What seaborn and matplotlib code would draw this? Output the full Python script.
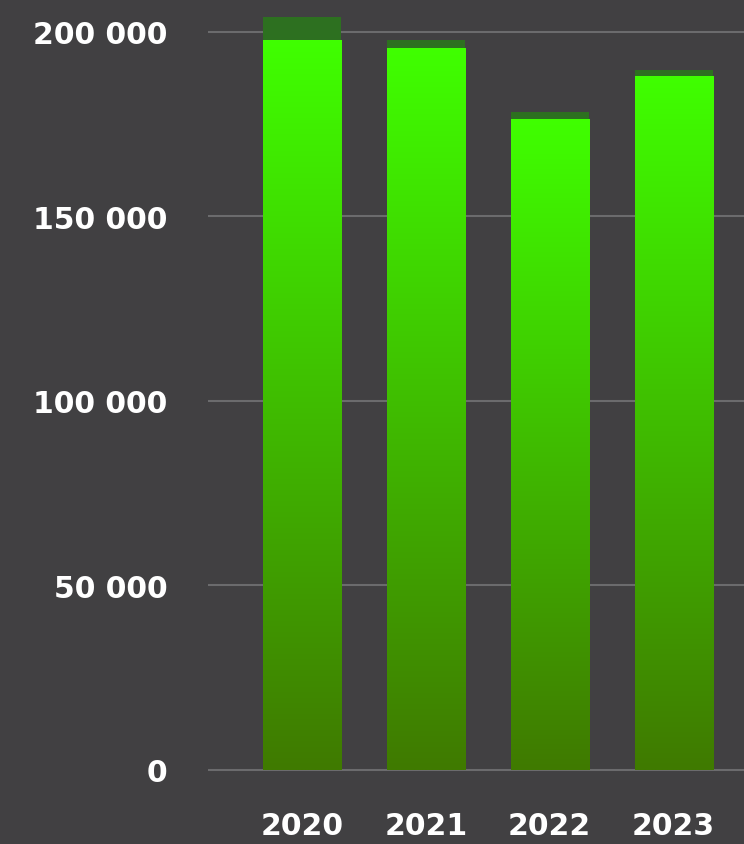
import numpy as np
import matplotlib
matplotlib.use("Agg")
import matplotlib.pyplot as plt
from matplotlib.colors import LinearSegmentedColormap
import seaborn as sns

# Annual volumes: main segment plus the small top-up segment
years = ["2020", "2021", "2022", "2023"]
base_values = [197900, 195700, 176400, 188100]
top_values = [6100, 2000, 1900, 1600]
y_ticks = [0, 50000, 100000, 150000, 200000]
y_tick_labels = ["0", "50 000", "100 000", "150 000", "200 000"]

BG = "#414042"
GRID = "#6b6b6d"
CAP = "#2d7020"
GREEN_LOW = "#3f7a00"
GREEN_HIGH = "#40ff00"

totals = [b + t for b, t in zip(base_values, top_values)]

sns.set_theme(style="dark")
plt.rcParams["font.family"] = ["DejaVu Sans"]

fig = plt.figure(figsize=(7.44, 8.45), dpi=100, facecolor=BG)
ax = fig.add_axes([208 / 744, 45 / 845, 1 - 208 / 744, 800 / 845])
ax.set_facecolor(BG)

bar_w = 0.63
# full stack height in the darker cap colour, main segment drawn over it
sns.barplot(x=years, y=totals, color=CAP, width=bar_w, saturation=1,
            ax=ax, zorder=2, linewidth=0)
sns.barplot(x=years, y=base_values, color=GREEN_HIGH, width=bar_w,
            saturation=1, ax=ax, zorder=3, linewidth=0)

# vertical gradient inside each main segment
cmap = LinearSegmentedColormap.from_list("bar_grad", [GREEN_LOW, GREEN_HIGH])
grad = np.linspace(0, 1, 256).reshape(-1, 1)
for patch in ax.patches[len(years):]:
    x0 = patch.get_x()
    w = patch.get_width()
    h = patch.get_height()
    im = ax.imshow(grad, cmap=cmap, origin="lower", aspect="auto",
                   extent=[x0, x0 + w, 0, h], zorder=4, interpolation="bilinear")
    im.set_clip_path(patch)

px_per_unit = 737.7 / 200000
ax.set_xlim(-0.758, 3.568)
ax.set_ylim(-(800 - 770.7) / px_per_unit, 770.7 / px_per_unit)

ax.set_yticks(y_ticks)
ax.set_yticklabels(y_tick_labels)
ax.grid(axis="y", color=GRID, linewidth=1.5, zorder=1)
ax.grid(axis="x", visible=False)
ax.set_axisbelow(True)

for s in ax.spines.values():
    s.set_visible(False)

ax.tick_params(axis="y", length=0, pad=29, labelsize=21.5, labelcolor="white")
ax.tick_params(axis="x", length=0, pad=9, labelsize=21.5, labelcolor="white")
for lbl in ax.get_yticklabels() + ax.get_xticklabels():
    lbl.set_fontweight("bold")

ax.set_xlabel("")
ax.set_ylabel("")

fig.savefig("out.png", dpi=100, facecolor=BG)
